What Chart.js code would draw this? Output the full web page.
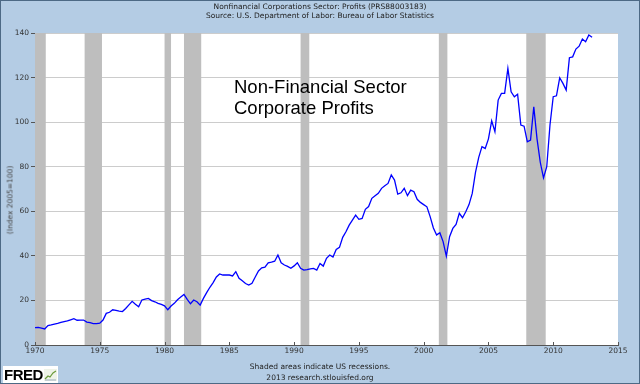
<!DOCTYPE html>
<html><head><meta charset="utf-8">
<script src="https://cdn.jsdelivr.net/npm/chart.js@4.4.1/dist/chart.umd.min.js"></script>
<style>
html,body{margin:0;padding:0;background:#b4cce4;}
#wrap{position:relative;width:640px;height:384px;background:#b4cce4;overflow:hidden;}
#frame{position:absolute;left:0;top:0;width:638px;height:382px;border:1px solid #4d6985;pointer-events:none;}
canvas{position:absolute;left:0;top:0;}
.t{position:absolute;left:0;width:640px;text-align:center;font-family:"DejaVu Sans",sans-serif;font-size:7.5px;color:#222;white-space:nowrap;line-height:9px;}
#ytitle{position:absolute;left:10px;top:200px;transform:translate(-50%,-50%) rotate(-90deg);font-family:"DejaVu Sans",sans-serif;font-size:7.5px;color:#444;white-space:nowrap;}
#note{position:absolute;left:234px;top:76px;font-family:"Liberation Sans",Arial,sans-serif;font-size:18.5px;line-height:21px;color:#000;white-space:nowrap;}
#fred{position:absolute;left:3px;top:366px;width:55px;height:17px;background:#fff;}
#fred span{position:absolute;left:1px;top:0px;font-family:"Liberation Sans",Arial,sans-serif;font-weight:bold;font-size:15px;line-height:17px;color:#000;letter-spacing:-0.5px;}
#fred svg{position:absolute;left:41px;top:3px;}
</style></head>
<body>
<div id="wrap">
<canvas id="c" width="640" height="384"></canvas>
<div class="t" style="top:2px">Nonfinancial Corporations Sector: Profits (PRS88003183)</div>
<div class="t" style="top:11px">Source: U.S. Department of Labor: Bureau of Labor Statistics</div>
<div id="ytitle">(Index 2005=100)</div>
<div id="note">Non-Financial Sector<br>Corporate Profits</div>
<div class="t" style="top:362px">Shaded areas indicate US recessions.</div>
<div class="t" style="top:373px">2013 research.stlouisfed.org</div>
<div id="fred"><span>FRED</span><svg width="13" height="12" viewBox="0 0 13 12"><rect x="0" y="0" width="13" height="12" fill="#eef3e8"/><polyline points="1,10 4,7 6,8 9,4 12,2" fill="none" stroke="#6a9a3a" stroke-width="1.2"/><polyline points="1,11 12,11" stroke="#9ab" stroke-width="1"/></svg></div>
<div id="frame"></div>
</div>
<script>
const startYear = 1970; // first quarter 1970Q1, quarterly observations
const profits1970s = [7.8,7.9,7.6,7.2, 8.7,9.0,9.4,9.7, 10.1,10.5,10.8,11.3, 11.8,11.1,11.2,11.2, 10.3,10.0,9.6,9.6,
  9.8,11.2,14.2,14.7, 15.8,15.5,15.2,15.0, 16.4,18.0,19.6,18.3, 17.2,20.2,20.6,20.9, 19.9,19.4,18.7,18.2];
const profits1980s = [17.6,15.8,17.5,18.7, 20.3,21.5,22.7,20.5, 18.5,20.2,19.4,17.9, 20.9,23.5,25.9,28.0, 30.5,31.9,31.4,31.4,
  31.4,31.0,32.9,29.9, 28.8,27.6,26.9,27.7, 30.5,33.2,34.6,34.9, 36.9,37.2,37.6,40.4, 36.9,35.9,35.3,34.4];
const profits1990s = [35.5,36.9,34.4,33.6, 33.8,34.2,34.4,33.6, 36.6,35.4,38.9,40.4, 39.5,42.9,43.8,48.3, 50.8,53.8,56.0,58.3,
  56.4,56.8,60.9,62.1, 65.8,67.0,68.1,70.3, 71.5,72.5,76.3,74.0, 67.7,68.3,70.3,67.0, 69.5,68.8,65.4,64.0];
const profits2000s = [63.0,62.0,57.6,52.5, 49.4,50.4,46.4,39.9, 48.6,52.3,54.1,59.1, 57.1,59.8,63.0,68.0, 77.5,84.2,89.0,88.2,
  92.5,100.6,95.7,109.9, 112.9,112.9,124.1,113.6, 111.4,112.5,98.7,98.2, 91.2,92.0,106.9,92.5, 82.0,75.0,80.0,98.7];
const profits2010s = [111.4,111.8,119.9,117.4, 114.4,128.9,129.3,132.8, 134.1,137.3,136.1,139.1, 138.1];
const recessionStarts = [1969.92, 1973.83, 1980.0, 1981.5, 1990.5, 2001.17, 2007.92];
const recessionEnds   = [1970.83, 1975.17, 1980.5, 1982.83, 1991.17, 2001.83, 2009.42];
const xTicks = [1970,1975,1980,1985,1990,1995,2000,2005,2010,2015];
const yTicks = [0,20,40,60,80,100,120,140];

const values = [].concat(profits1970s, profits1980s, profits1990s, profits2000s, profits2010s);
const points = values.map((v,i)=>({x: startYear + i/4, y: v}));

const bgPlugin = {
  id:'bg',
  beforeDraw(chart){
    const {ctx, chartArea:a} = chart;
    ctx.save(); ctx.fillStyle='#ffffff';
    ctx.fillRect(a.left, a.top, a.right-a.left, a.bottom-a.top);
    ctx.restore();
  },
  beforeDatasetsDraw(chart){
    const {ctx, chartArea:a, scales:{x}} = chart;
    ctx.save(); ctx.fillStyle='#bebebe';
    for(let i=0;i<recessionStarts.length;i++){
      const x0 = Math.max(a.left, x.getPixelForValue(recessionStarts[i]));
      const x1 = Math.min(a.right, x.getPixelForValue(recessionEnds[i]));
      ctx.fillRect(x0, a.top, x1-x0, a.bottom-a.top);
    }
    // x ticks drawn upward from axis
    ctx.strokeStyle='#555'; ctx.lineWidth=1;
    xTicks.forEach(t=>{
      const px = Math.round(x.getPixelForValue(t))+0.5;
      ctx.beginPath(); ctx.moveTo(px, a.bottom); ctx.lineTo(px, a.bottom-3); ctx.stroke();
    });
    ctx.restore();
  }
};

new Chart(document.getElementById('c'), {
  type:'line',
  data:{datasets:[{data:points, borderColor:'#0000ff', borderWidth:1.3, pointRadius:0, tension:0, fill:false}]},
  options:{
    responsive:false, animation:false, devicePixelRatio:1,
    layout:{padding:{left:0,right:22,top:33,bottom:0}},
    plugins:{legend:{display:false}, tooltip:{enabled:false}},
    scales:{
      x:{type:'linear', min:1970, max:2015,
        afterBuildTicks(s){ s.ticks = xTicks.map(v=>({value:v})); },
        afterFit(s){ s.height = 39; },
        ticks:{font:{family:'DejaVu Sans', size:7.5}, color:'#333', padding:2, maxRotation:0, autoSkip:false, callback:v=>String(v)},
        grid:{display:true, drawOnChartArea:false, drawTicks:false, color:'#555'},
        border:{display:true, color:'#555', width:1}
      },
      y:{type:'linear', min:0, max:140,
        afterBuildTicks(s){ s.ticks = yTicks.map(v=>({value:v})); },
        afterFit(s){ s.width = 35; },
        ticks:{font:{family:'DejaVu Sans', size:7.5}, color:'#333', padding:2},
        grid:{color:'#cccccc', lineWidth:1, drawTicks:true, tickLength:4, tickColor:'#555'},
        border:{display:true, color:'#555', width:1}
      }
    }
  },
  plugins:[bgPlugin]
});
</script>
</body></html>
